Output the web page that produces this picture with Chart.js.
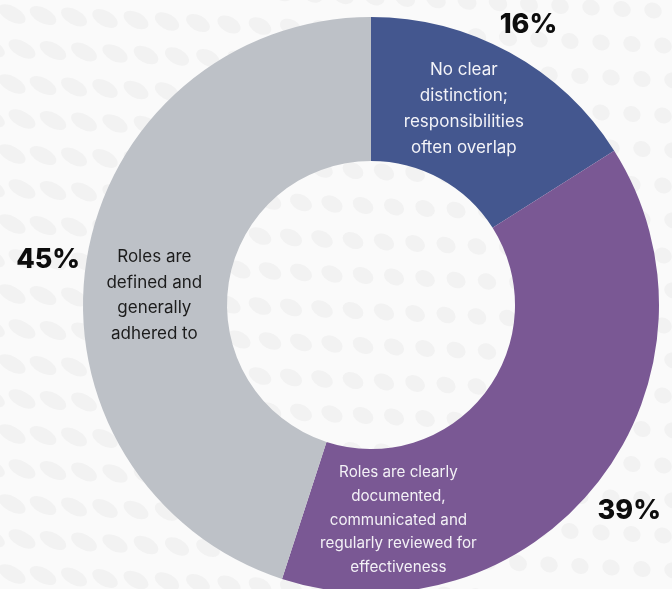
<!DOCTYPE html>
<html lang="en">
<head>
<meta charset="UTF-8">
<title>Role clarity</title>
<script src="https://cdn.jsdelivr.net/npm/chart.js"></script>
<style>
  html, body { margin: 0; padding: 0; background: #fafafa; overflow: hidden; }
  #wrap { width: 672px; height: 589px; position: relative; }
</style>
</head>
<body>
<div id="wrap"><canvas id="rolesChart"></canvas></div>
<script>
// answers, in clockwise order starting at 12 o'clock
const categories = [
  ['No clear', 'distinction;', 'responsibilities', 'often overlap'],
  ['Roles are clearly', 'documented,', 'communicated and', 'regularly reviewed for', 'effectiveness'],
  ['Roles are', 'defined and', 'generally', 'adhered to']
];
const shares = [16, 39, 45];
const percentLabels = ['16%', '39%', '45%'];

const sliceColors = ['#44578f', '#7a5894', '#bdc1c7'];
const textColors = ['#f3f3f8', '#f3f1f6', '#1c1c1c'];

// soft dotted backdrop
const backdrop = {
  id: 'backdrop',
  beforeDraw(chart) {
    const ctx = chart.ctx;
    ctx.save();
    ctx.fillStyle = '#fafafa';
    ctx.fillRect(0, 0, chart.width, chart.height);
    ctx.fillStyle = '#f2f2f2';
    for (let row = -1; row < 19; row++) {
      for (let col = -1; col < 24; col++) {
        const x = col * 31 + (row % 2) * 10 + 12;
        const y = row * 35 + 14 + col * 1.5;
        const s = Math.max(0.45, 1 - x / 1000);
        const rx = 15 * s + 4 * (1 - s);
        const ry = 7.5 * s + 8 * (1 - s);
        ctx.beginPath();
        ctx.ellipse(x, y, rx, ry, 0.5, 0, Math.PI * 2);
        ctx.fill();
      }
    }
    ctx.restore();
  }
};

// text inside the ring and the percentage outside each slice
const sliceText = {
  id: 'sliceText',
  afterDatasetsDraw(chart) {
    const ctx = chart.ctx;
    const arcs = chart.getDatasetMeta(0).data;
    // where the inner text sits along each slice (0 = start, 1 = end)
    const along = [0.44, 0.82, 0.46];
    ctx.save();
    ctx.textAlign = 'center';
    ctx.textBaseline = 'middle';
    arcs.forEach((arc, i) => {
      const { x, y, startAngle, endAngle, outerRadius } = arc.getProps(['x', 'y', 'startAngle', 'endAngle', 'outerRadius']);
      const mid = (startAngle + endAngle) / 2;

      const pr = outerRadius * 1.135;
      ctx.fillStyle = '#0d0d0d';
      ctx.font = '800 27px Inter, "DejaVu Sans", sans-serif';
      ctx.fillText(percentLabels[i], x + Math.cos(mid) * pr, y + Math.sin(mid) * pr + 6);

      const a = startAngle + (endAngle - startAngle) * along[i];
      const tr = outerRadius * 0.753;
      const cx = x + Math.cos(a) * tr;
      const cy = y + Math.sin(a) * tr;
      const lines = categories[i];
      const size = lines.length > 4 ? 15.2 : 17;
      const lh = lines.length > 4 ? 23.7 : 25.8;
      ctx.fillStyle = textColors[i];
      ctx.font = size + 'px Inter, "DejaVu Sans", sans-serif';
      lines.forEach((t, k) => {
        ctx.fillText(t, cx, cy + (k - (lines.length - 1) / 2) * lh);
      });
    });
    ctx.restore();
  }
};

new Chart(document.getElementById('rolesChart'), {
  type: 'doughnut',
  data: {
    labels: categories.map(l => l.join(' ')),
    datasets: [{
      data: shares,
      backgroundColor: sliceColors,
      borderWidth: 0,
      hoverOffset: 0
    }]
  },
  options: {
    responsive: true,
    maintainAspectRatio: false,
    animation: false,
    radius: 288,
    cutout: '50%',
    layout: { padding: { left: 70, right: 0, top: 21, bottom: 0 } },
    plugins: {
      legend: { display: false },
      tooltip: { enabled: false }
    }
  },
  plugins: [backdrop, sliceText]
});
</script>
</body>
</html>
